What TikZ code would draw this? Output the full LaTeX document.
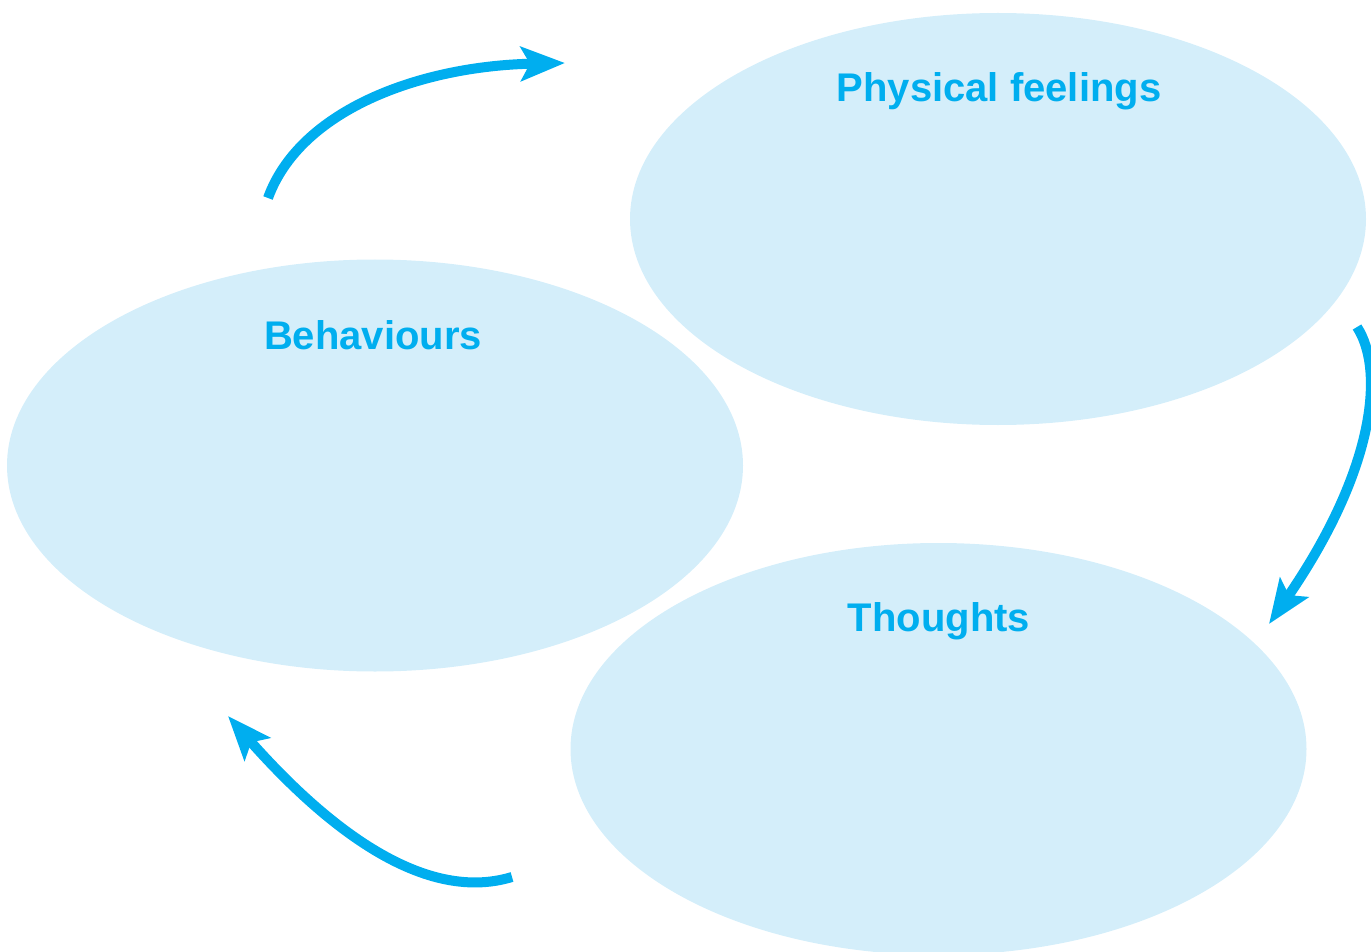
\documentclass[tikz,border=0pt]{standalone}
\usepackage{fontspec}
\setmainfont{Liberation Sans}
\usetikzlibrary{shapes.geometric,arrows.meta}
\definecolor{cyanline}{HTML}{00AEEF}
\definecolor{bubble}{HTML}{D4EEFA}
\begin{document}
\begin{tikzpicture}[x=1pt,y=-1pt,
  bubblestyle/.style={ellipse, fill=bubble, draw=none, minimum width=736pt, minimum height=412pt, inner sep=0pt},
  labelstyle/.style={text=cyanline, font=\fontsize{40}{48}\selectfont\bfseries, inner sep=0pt, anchor=center},
  cyclearrow/.style={draw=cyanline, line width=10pt, -{Stealth[length=44pt, width=34pt, inset=9pt]}}]
\useasboundingbox (0,0) rectangle (1371,952);
\node[bubblestyle] (phys) at (998,219) {};
\node[bubblestyle] (beh) at (375,465.5) {};
\node[bubblestyle] (thou) at (938.5,749) {};
\node[labelstyle] (physlabel) at (999,91) {Physical feelings};
\node[labelstyle] (behlabel) at (373,335) {Behaviours};
\node[labelstyle] (thoulabel) at (939,621) {Thoughts};
\coordinate (a1s) at (268,198);
\coordinate (a1e) at (565,63);
\coordinate (a2s) at (1357,327);
\coordinate (a2e) at (1269,624);
\coordinate (a3s) at (512,877);
\coordinate (a3e) at (228,716);
\draw[cyclearrow] (a1s) .. controls (300,110) and (420,66) .. (a1e);
\draw[cyclearrow] (a2s) .. controls (1385,370) and (1375,470) .. (a2e);
\draw[cyclearrow] (a3s) .. controls (420,905) and (320,820) .. (a3e);
\end{tikzpicture}
\end{document}
